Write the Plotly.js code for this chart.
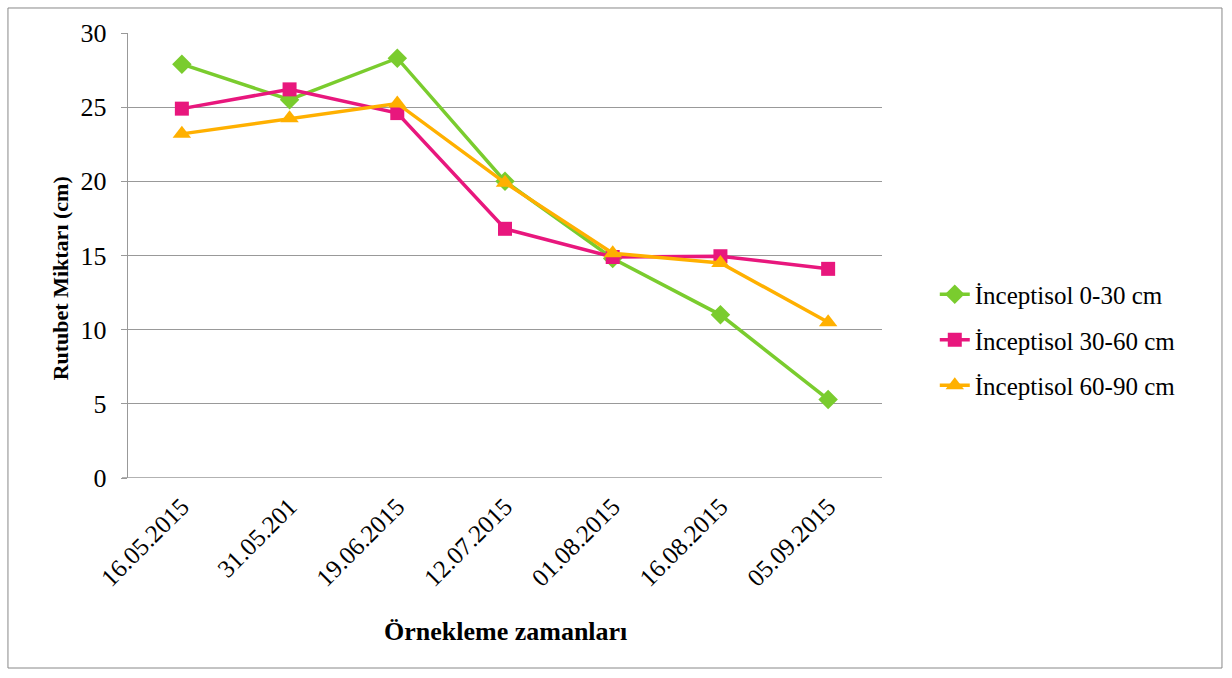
<!DOCTYPE html>
<html>
<head>
<meta charset="utf-8">
<script src="https://cdn.plot.ly/plotly-3.0.1.min.js"></script>
<style>html,body{margin:0;padding:0;background:#fff;}#chart{width:1232px;height:678px;}</style>
</head>
<body>
<div id="chart"></div>
<script>
const categories = ["16.05.2015", "31.05.201", "19.06.2015", "12.07.2015", "01.08.2015", "16.08.2015", "05.09.2015"];
const seriesNames = ["İnceptisol 0-30 cm", "İnceptisol 30-60 cm", "İnceptisol 60-90 cm"];
const inc0_30 = [27.9, 25.5, 28.3, 20.0, 14.8, 11.0, 5.3];
const inc30_60 = [24.9, 26.2, 24.6, 16.8, 14.9, 14.95, 14.1];
const inc60_90 = [23.2, 24.25, 25.25, 19.9, 15.15, 14.5, 10.5];
const yTicks = [0, 5, 10, 15, 20, 25, 30];

const colors = ["#7ACC2E", "#E8177D", "#FFB000"];
const symbols = ["diamond", "square", "triangle-up"];
const sizes = [15, 14, 16];
const data = [inc0_30, inc30_60, inc60_90].map((vals, i) => ({
  x: categories, y: vals, type: "scatter", mode: "lines+markers",
  name: seriesNames[i], legendgroup: "g" + i,
  line: {color: colors[i], width: 3.5},
  marker: {color: colors[i], symbol: symbols[i], size: sizes[i]}
}));

const layout = {
  width: 1232, height: 678,
  margin: {l: 128, r: 350, t: 33, b: 200},
  paper_bgcolor: "#fff", plot_bgcolor: "#fff",
  font: {family: "Liberation Serif, Times New Roman, serif", color: "#000", size: 24},
  showlegend: true,
  legend: {x: 1.07, y: 0.31, xanchor: "left", yanchor: "middle", tracegroupgap: 10,
           font: {size: 25, family: "Liberation Serif, serif"}, bgcolor: "rgba(0,0,0,0)"},
  xaxis: {
    type: "category", range: [-0.5, 6.5], tickangle: -45,
    showgrid: false, zeroline: false, showline: false, ticks: "",
    tickfont: {size: 25}, automargin: false, ticklabelstandoff: 8
  },
  yaxis: {
    range: [0, 30], tickvals: yTicks, ticktext: yTicks.map(String),
    showgrid: true, gridcolor: "#999", gridwidth: 1.3,
    zeroline: false, showline: true, linecolor: "#999", linewidth: 1.3,
    ticks: "outside", ticklen: 6, tickcolor: "#999",
    tickfont: {size: 26}, automargin: false, ticklabelstandoff: 9
  },
  annotations: [
    {text: "<b>Örnekleme zamanları</b>", xref: "paper", yref: "paper", x: 0.5, y: -0.346,
     xanchor: "center", yanchor: "middle", showarrow: false, font: {size: 26}},
    {text: "<b>Rutubet Miktarı (cm)</b>", xref: "paper", yref: "paper", x: -0.09, y: 0.449,
     xanchor: "center", yanchor: "middle", showarrow: false, textangle: -90, font: {size: 22}}
  ],
  shapes: [
    {type: "rect", xref: "paper", yref: "paper", x0: -0.1592, x1: 1.4509, y0: -0.427, y1: 1.0562,
     line: {color: "#888", width: 1}, fillcolor: "rgba(0,0,0,0)", layer: "below"},
    {type: "line", xref: "paper", yref: "y", x0: -0.008, x1: 1, y0: 0, y1: 0, line: {color: "#999", width: 1.3}, layer: "below"}
  ]
};

Plotly.newPlot("chart", data, layout, {displayModeBar: false, staticPlot: true});
</script>
</body>
</html>
